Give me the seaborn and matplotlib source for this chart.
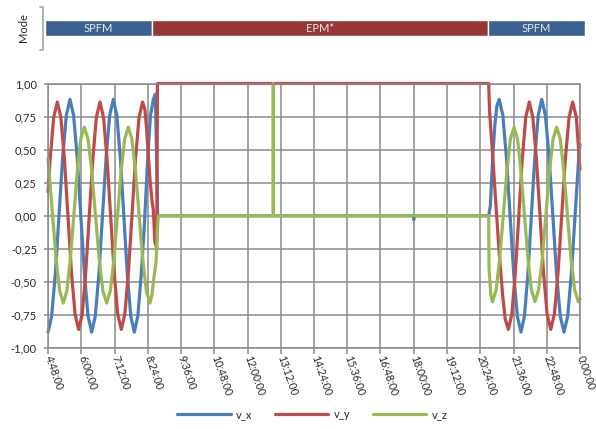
import pandas as pd
import matplotlib
matplotlib.use("Agg")
import matplotlib.pyplot as plt
import matplotlib.transforms as mtransforms
import seaborn as sns
from matplotlib.lines import Line2D

# time in minutes since midnight
vx_t = [288, 295.9, 303.9, 311.8, 319.7, 327.7, 335.6, 343.4, 351.3, 359.1, 366.9, 374.8,
        382.6, 390.4, 398.2, 406.0, 413.8, 421.6, 429.4, 437.0, 444.6, 452.2, 459.7, 467.3,
        474.9, 482.5, 490.0, 497.0, 504.0, 510.0, 516.0, 520.5, 525.5, 1079, 1080, 1081,
        1242.3, 1246, 1249, 1252, 1256, 1260, 1265, 1272.9, 1280.7, 1288.6, 1296.5, 1304.3,
        1312.2, 1319.7, 1327.2, 1334.7, 1342.1, 1349.6, 1357.1, 1365.1, 1373.2, 1381.2,
        1389.2, 1397.3, 1405.3, 1413.3, 1421.3, 1429.3, 1437.3, 1440]
vx_v = [-0.88, -0.76, -0.44, 0.0, 0.44, 0.76, 0.88, 0.76, 0.44, 0.0, -0.44, -0.76,
        -0.88, -0.76, -0.44, 0.0, 0.44, 0.76, 0.88, 0.76, 0.44, 0.0, -0.44, -0.76,
        -0.88, -0.76, -0.44, -0.05, 0.44, 0.76, 0.88, 0.92, 0.0, 0.0, -0.03, 0.0,
        0.0, 0.08, 0.3, 0.5, 0.7, 0.83, 0.88, 0.76, 0.44, 0.0, -0.44, -0.76,
        -0.88, -0.76, -0.44, 0.0, 0.44, 0.76, 0.88, 0.76, 0.44, 0.0,
        -0.44, -0.76, -0.88, -0.76, -0.44, 0.0, 0.44, 0.54]

vy_t = [288, 292.7, 300.4, 308.1, 315.8, 323.5, 331.2, 338.9, 346.6, 354.3, 362.0, 369.7,
        377.4, 385.1, 392.8, 400.5, 408.2, 415.9, 423.6, 431.3, 439.0, 446.7, 454.4, 462.1,
        469.8, 477.5, 485.2, 492.9, 498, 502, 506, 509, 513, 516, 519.5, 523.5, 525,
        1242.3, 1244, 1251, 1258, 1265, 1272.5, 1278, 1284.8, 1292.4, 1300, 1307.5, 1315,
        1322.6, 1330.2, 1337.9, 1345.6, 1353.4, 1361.1, 1368.8, 1376.6, 1384.5, 1392.5,
        1400.4, 1408.3, 1416.3, 1424.2, 1432.1, 1440]
vy_v = [0.18, 0.43, 0.745, 0.86, 0.745, 0.43, 0.0, -0.43, -0.745, -0.86, -0.745, -0.43,
        0.0, 0.43, 0.745, 0.86, 0.745, 0.43, 0.0, -0.43, -0.745, -0.86, -0.745, -0.43,
        0.0, 0.43, 0.745, 0.86, 0.80, 0.63, 0.42, 0.27, 0.12, 0.05, -0.2, -0.25, 1.0,
        1.0, 0.8, 0.45, 0.08, -0.28, -0.6, -0.78, -0.86, -0.745, -0.43, 0.0, 0.43,
        0.745, 0.86, 0.745, 0.43, 0.0, -0.43, -0.745, -0.86, -0.745, -0.43,
        0.0, 0.43, 0.745, 0.86, 0.745, 0.35]

vz_t = [288, 290.3, 298.0, 305.7, 313.4, 321.1, 328.7, 336.3, 343.9, 351.4, 359.0, 366.6,
        374.7, 382.8, 390.9, 398.9, 407.0, 415.1, 422.9, 430.7, 438.5, 446.3, 454.1, 461.9,
        469.7, 477.6, 485.4, 493.2, 501.1, 508.9, 513, 518, 522, 525, 526.8,
        775.6, 775.9, 776.2, 1242.3, 1243, 1247, 1250.5, 1258.3, 1266.0, 1273.8, 1281.6,
        1289.3, 1297.1, 1304.7, 1312.2, 1319.8, 1327.4, 1334.9, 1342.5, 1350.3, 1358.2,
        1366.0, 1373.8, 1381.7, 1389.5, 1397.3, 1405.1, 1412.9, 1420.7, 1428.5, 1436.3, 1440]
vz_v = [0.43, 0.335, 0.0, -0.33, -0.57, -0.66, -0.57, -0.33, 0.0, 0.335, 0.58, 0.67,
        0.58, 0.335, 0.0, -0.33, -0.57, -0.66, -0.57, -0.33, 0.0, 0.335, 0.58, 0.67,
        0.58, 0.335, 0.0, -0.33, -0.57, -0.66, -0.6, -0.45, -0.35, -0.1, 0.0,
        0.0, 1.0, 0.0, 0.0, -0.4, -0.6, -0.65, -0.56, -0.33, 0.0, 0.335,
        0.58, 0.67, 0.58, 0.335, 0.0, -0.33, -0.56, -0.65, -0.56, -0.33,
        0.0, 0.335, 0.58, 0.67, 0.58, 0.335, 0.0, -0.33, -0.56, -0.65, -0.63]

series = ["v_x", "v_y", "v_z"]
colors = ["#4A7EBB", "#BE4B48", "#98B954"]

mode_labels = ["SPFM", "EPM*", "SPFM"]
mode_start = [281.5, 513.0, 1241.0]
mode_end = [513.0, 1241.0, 1451.0]
mode_colors = ["#3A6190", "#953735", "#3A6190"]

x_ticks = list(range(288, 1441, 72))
y_ticks = [-1.0, -0.75, -0.5, -0.25, 0.0, 0.25, 0.5, 0.75, 1.0]


def fmt_time(m):
    h = int(m // 60) % 24
    return f"{h}:{int(m % 60):02d}:00"


df = pd.concat([
    pd.DataFrame({"t": vx_t, "v": vx_v, "series": "v_x"}),
    pd.DataFrame({"t": vy_t, "v": vy_v, "series": "v_y"}),
    pd.DataFrame({"t": vz_t, "v": vz_v, "series": "v_z"}),
], ignore_index=True)

sns.set_theme(style="white")
plt.rcParams["font.family"] = ["Lato", "DejaVu Sans"]

fig = plt.figure(figsize=(5.96, 4.29), dpi=100)
ax = fig.add_axes([48 / 596, 81 / 429, 532 / 596, 264.5 / 429])

sns.lineplot(data=df, x="t", y="v", hue="series", hue_order=series, palette=colors,
             estimator=None, sort=False, errorbar=None, linewidth=2.3, ax=ax)
for line in ax.get_lines():
    line.set_clip_on(False)
    line.set_solid_joinstyle("round")

handles, labels = ax.get_legend_handles_labels()
ax.get_legend().remove()

grid_c = "#8A8A8A"
ax.set_xlim(288, 1440)
ax.set_ylim(-1, 1)
ax.set_xticks(x_ticks)
ax.set_xticklabels([fmt_time(m) for m in x_ticks], rotation=-71, ha="left",
                   va="center", rotation_mode="anchor")
shift = mtransforms.ScaledTranslation(-5 / 100, 0, fig.dpi_scale_trans)
for lab in ax.get_xticklabels():
    lab.set_transform(lab.get_transform() + shift)
ax.set_yticks(y_ticks)
ax.set_yticklabels([f"{v:.2f}".replace(".", ",") for v in y_ticks])
ax.grid(True, color=grid_c, linewidth=1.1)
ax.set_axisbelow(True)
for s in ax.spines.values():
    s.set_color(grid_c)
    s.set_linewidth(1.1)
ax.tick_params(axis="x", direction="out", length=4, width=1.1, color=grid_c,
               labelsize=7.6, labelcolor="#262626", pad=2, bottom=True)
ax.tick_params(axis="y", direction="out", length=3, width=1.1, color=grid_c,
               labelsize=8, labelcolor="#262626", pad=5, left=True)
ax.set_xlabel("")
ax.set_ylabel("")

# mode strip on top
mx = fig.add_axes([48 / 596, (429 - 36) / 429, 532 / 596, 16 / 429])
mx.barh(0, [e - s for s, e in zip(mode_start, mode_end)], left=mode_start, height=1,
        color=mode_colors, clip_on=False)
for lab, s, e in zip(mode_labels, mode_start, mode_end):
    mx.text((s + e) / 2, 0, lab, ha="center", va="center", color="#E6E6E6", fontsize=8)
mx.set_xlim(288, 1440)
mx.set_ylim(-0.5, 0.5)
mx.axis("off")

fig.text(24 / 596, 1 - 28 / 429, "Mode", rotation=90, ha="center", va="center",
         fontsize=8, color="#262626")
fig.add_artist(Line2D([40 / 596, 43 / 596, 43 / 596, 40 / 596],
                      [1 - 7 / 429, 1 - 7 / 429, 1 - 50 / 429, 1 - 50 / 429],
                      color="#A6A6A6", linewidth=1.2))

leg = fig.legend(handles, labels, loc="center", bbox_to_anchor=(0.524, 0.033), ncol=3,
                 frameon=False, handlelength=4.8, handletextpad=0.5, columnspacing=2.0,
                 fontsize=8)
for h in leg.get_lines():
    h.set_linewidth(2.3)

fig.savefig("out.png", dpi=100)
